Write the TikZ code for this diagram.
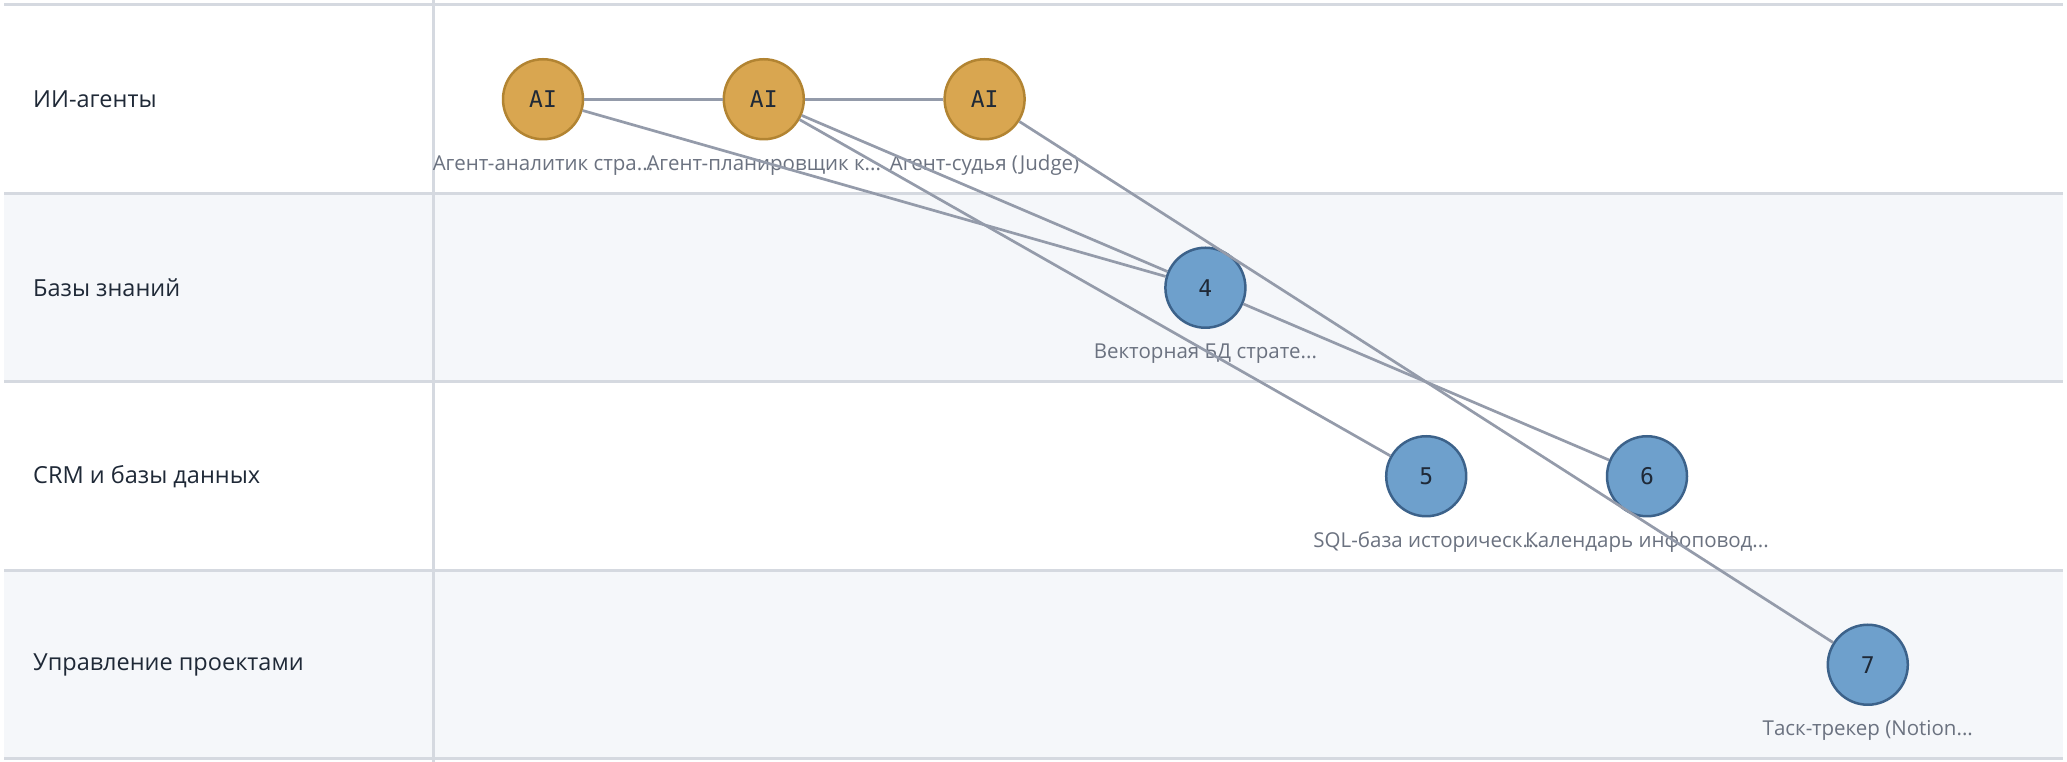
\documentclass[tikz,border=0pt]{standalone}
\usepackage{fontspec}
\setmainfont{Open Sans}
\newfontfamily\nodemono{DejaVu Sans Mono}
\definecolor{ink}{RGB}{31,41,55}
\definecolor{capgray}{RGB}{107,114,128}
\definecolor{gridgray}{RGB}{213,217,224}
\definecolor{lanefill}{RGB}{245,247,250}
\definecolor{edgegray}{RGB}{148,155,170}
\definecolor{agentfill}{RGB}{217,166,80}
\definecolor{agentborder}{RGB}{178,132,50}
\definecolor{storefill}{RGB}{110,160,204}
\definecolor{storeborder}{RGB}{60,98,138}
\tikzstyle{agent} = [circle, draw=agentborder, fill=agentfill, line width=2.5pt,
    minimum size=80pt, inner sep=0pt, text=ink, font=\nodemono\fontsize{23}{26}\selectfont]
\tikzstyle{store} = [circle, draw=storeborder, fill=storefill, line width=2.5pt,
    minimum size=80pt, inner sep=0pt, text=ink, font=\nodemono\fontsize{23}{26}\selectfont]
\tikzstyle{caption} = [text=capgray, inner sep=0pt, font=\fontsize{20.5}{24}\selectfont]
\tikzstyle{lane} = [text=ink, anchor=west, inner sep=0pt, font=\fontsize{23.5}{28}\selectfont]
\tikzstyle{gridline} = [draw=gridgray, line width=3pt]
\tikzstyle{link} = [draw, edgegray, line width=2.7pt]

\begin{document}
\begin{tikzpicture}[x=1pt,y=1pt,node distance=220.8pt]
    % Lanes
    \fill[white] (0,0) rectangle (2067,762);
    \useasboundingbox (0,0) rectangle (2067,762);
    \fill[lanefill] (4,380) rectangle (2063,568.5);
    \fill[lanefill] (4,3) rectangle (2063,191.5);
    \foreach \y in {757,568.5,380,191.5,3}
        \path [gridline] (4,\y) -- (2063,\y);
    \path [gridline] (433.5,0) -- (433.5,762);

    \node [lane] (lane1) at (33,662.75) {ИИ-агенты};
    \node [lane] (lane2) at (33,474.25) {Базы знаний};
    \node [lane] (lane3) at (33,285.75) {CRM и базы данных};
    \node [lane] (lane4) at (33,97.25) {Управление проектами};

    % Place nodes
    \node [agent] (ai1) at (543,662.75) {AI};
    \node [agent, right of=ai1] (ai2) {AI};
    \node [agent, right of=ai2] (ai3) {AI};
    \node [store, below of=ai3, node distance=188.5pt, xshift=220.8pt] (vec) {4};
    \node [store, below of=vec, node distance=188.5pt, xshift=220.8pt] (sql) {5};
    \node [store, right of=sql] (cal) {6};
    \node [store, below of=cal, node distance=188.5pt, xshift=220.8pt] (task) {7};

    \node [caption, below of=ai1, node distance=66pt] (capai1) {Агент-аналитик стра...};
    \node [caption, below of=ai2, node distance=66pt] (capai2) {Агент-планировщик к...};
    \node [caption, below of=ai3, node distance=66pt] (capai3) {Агент-судья (Judge)};
    \node [caption, below of=vec, node distance=66pt] (capvec) {Векторная БД страте...};
    \node [caption, below of=sql, node distance=66pt] (capsql) {SQL-база историческ...};
    \node [caption, below of=cal, node distance=66pt] (capcal) {Календарь инфоповод...};
    \node [caption, below of=task, node distance=66pt] (captask) {Таск-трекер (Notion...};

    % Draw edges
    \path [link] (ai1) -- (ai2);
    \path [link] (ai2) -- (ai3);
    \path [link] (ai1) -- (vec);
    \path [link] (ai2) -- (vec);
    \path [link] (ai2) -- (sql);
    \path [link] (ai3) -- (task);
    \path [link] (vec) -- (cal);
\end{tikzpicture}
\end{document}
